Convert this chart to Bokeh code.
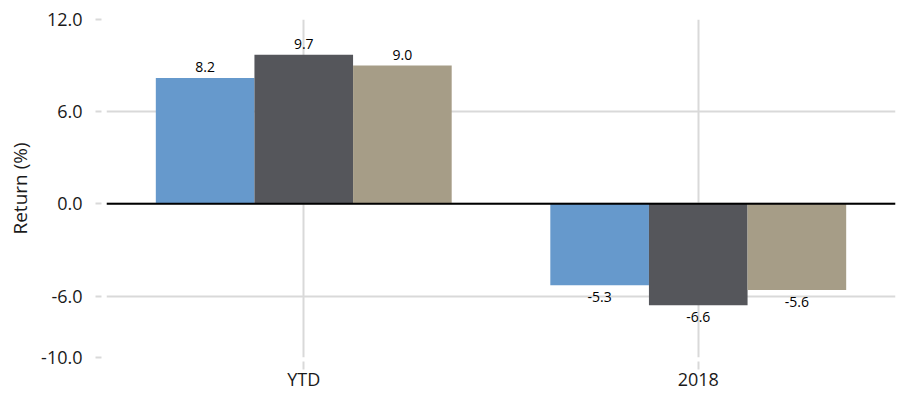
from bokeh.plotting import figure
from bokeh.models import (ColumnDataSource, FactorRange, Range1d, FixedTicker,
                          PrintfTickFormatter, LabelSet, Span)
from bokeh.core.properties import value
from bokeh.transform import dodge
from bokeh.embed import file_html
from bokeh.resources import INLINE

# Returns by period, one list per series
periods = ["YTD", "2018"]
series_a = [8.2, -5.3]
series_b = [9.7, -6.6]
series_c = [9.0, -5.6]
y_ticks = [-10, -6, 0, 6, 12]

colors = ["#6699CC", "#55565B", "#A69D87"]
offsets = [-0.25, 0.0, 0.25]
FONT = "Open Sans"
GRID = "#d9d9d9"

p = figure(x_range=FactorRange(*periods), y_range=Range1d(-10, 12),
           width=900, height=393, output_backend="svg", toolbar_location=None,
           min_border_left=106, min_border_right=5, min_border_top=19,
           min_border_bottom=36)
p.outline_line_color = None
p.background_fill_color = "white"

# grid
p.xgrid.grid_line_color = GRID
p.xgrid.grid_line_width = 2
p.ygrid.grid_line_color = GRID
p.ygrid.grid_line_width = 2
p.ygrid.ticker = FixedTicker(ticks=y_ticks)

# y axis
p.yaxis.ticker = FixedTicker(ticks=y_ticks)
p.yaxis.formatter = PrintfTickFormatter(format="%.1f")
p.yaxis.axis_line_color = None
p.yaxis.major_tick_in = -5
p.yaxis.major_tick_out = 11
p.yaxis.major_tick_line_color = GRID
p.yaxis.major_tick_line_width = 2
p.yaxis.minor_tick_line_color = None
p.yaxis.major_label_text_font = FONT
p.yaxis.major_label_text_font_size = "18px"
p.yaxis.major_label_text_color = "#1a1a1a"
p.yaxis.major_label_standoff = 13
p.yaxis.axis_label = "Return (%)"
p.yaxis.axis_label_text_font = FONT
p.yaxis.axis_label_text_font_size = "19px"
p.yaxis.axis_label_text_font_style = "normal"
p.yaxis.axis_label_text_color = "#1a1a1a"
p.yaxis.axis_label_standoff = 5

# x axis
p.xaxis.axis_line_color = None
p.xaxis.major_tick_in = -4
p.xaxis.major_tick_out = 12
p.xaxis.major_tick_line_color = GRID
p.xaxis.major_tick_line_width = 2
p.xaxis.major_label_text_font = FONT
p.xaxis.major_label_text_font_size = "18px"
p.xaxis.major_label_text_color = "#1a1a1a"
p.xaxis.major_label_standoff = -3

for vals, color, off in zip([series_a, series_b, series_c], colors, offsets):
    src = ColumnDataSource(dict(
        period=periods,
        value=vals,
        label=[f"{v:.1f}" for v in vals],
        yoff=[6 if v >= 0 else -17 for v in vals],
    ))
    p.vbar(x=dodge("period", off, range=p.x_range), top="value", bottom=0,
           width=0.25, fill_color=color, line_color=None, source=src)
    p.add_layout(LabelSet(x=dodge("period", off, range=p.x_range), y="value",
                          text="label", y_offset="yoff", source=src,
                          text_align="center", text_baseline="alphabetic",
                          text_font=value(FONT), text_font_size=value("14px"),
                          text_color="black"))

p.add_layout(Span(location=0, dimension="width", line_color="black",
                  line_width=2))

open("out.html", "w").write(file_html(p, INLINE))
